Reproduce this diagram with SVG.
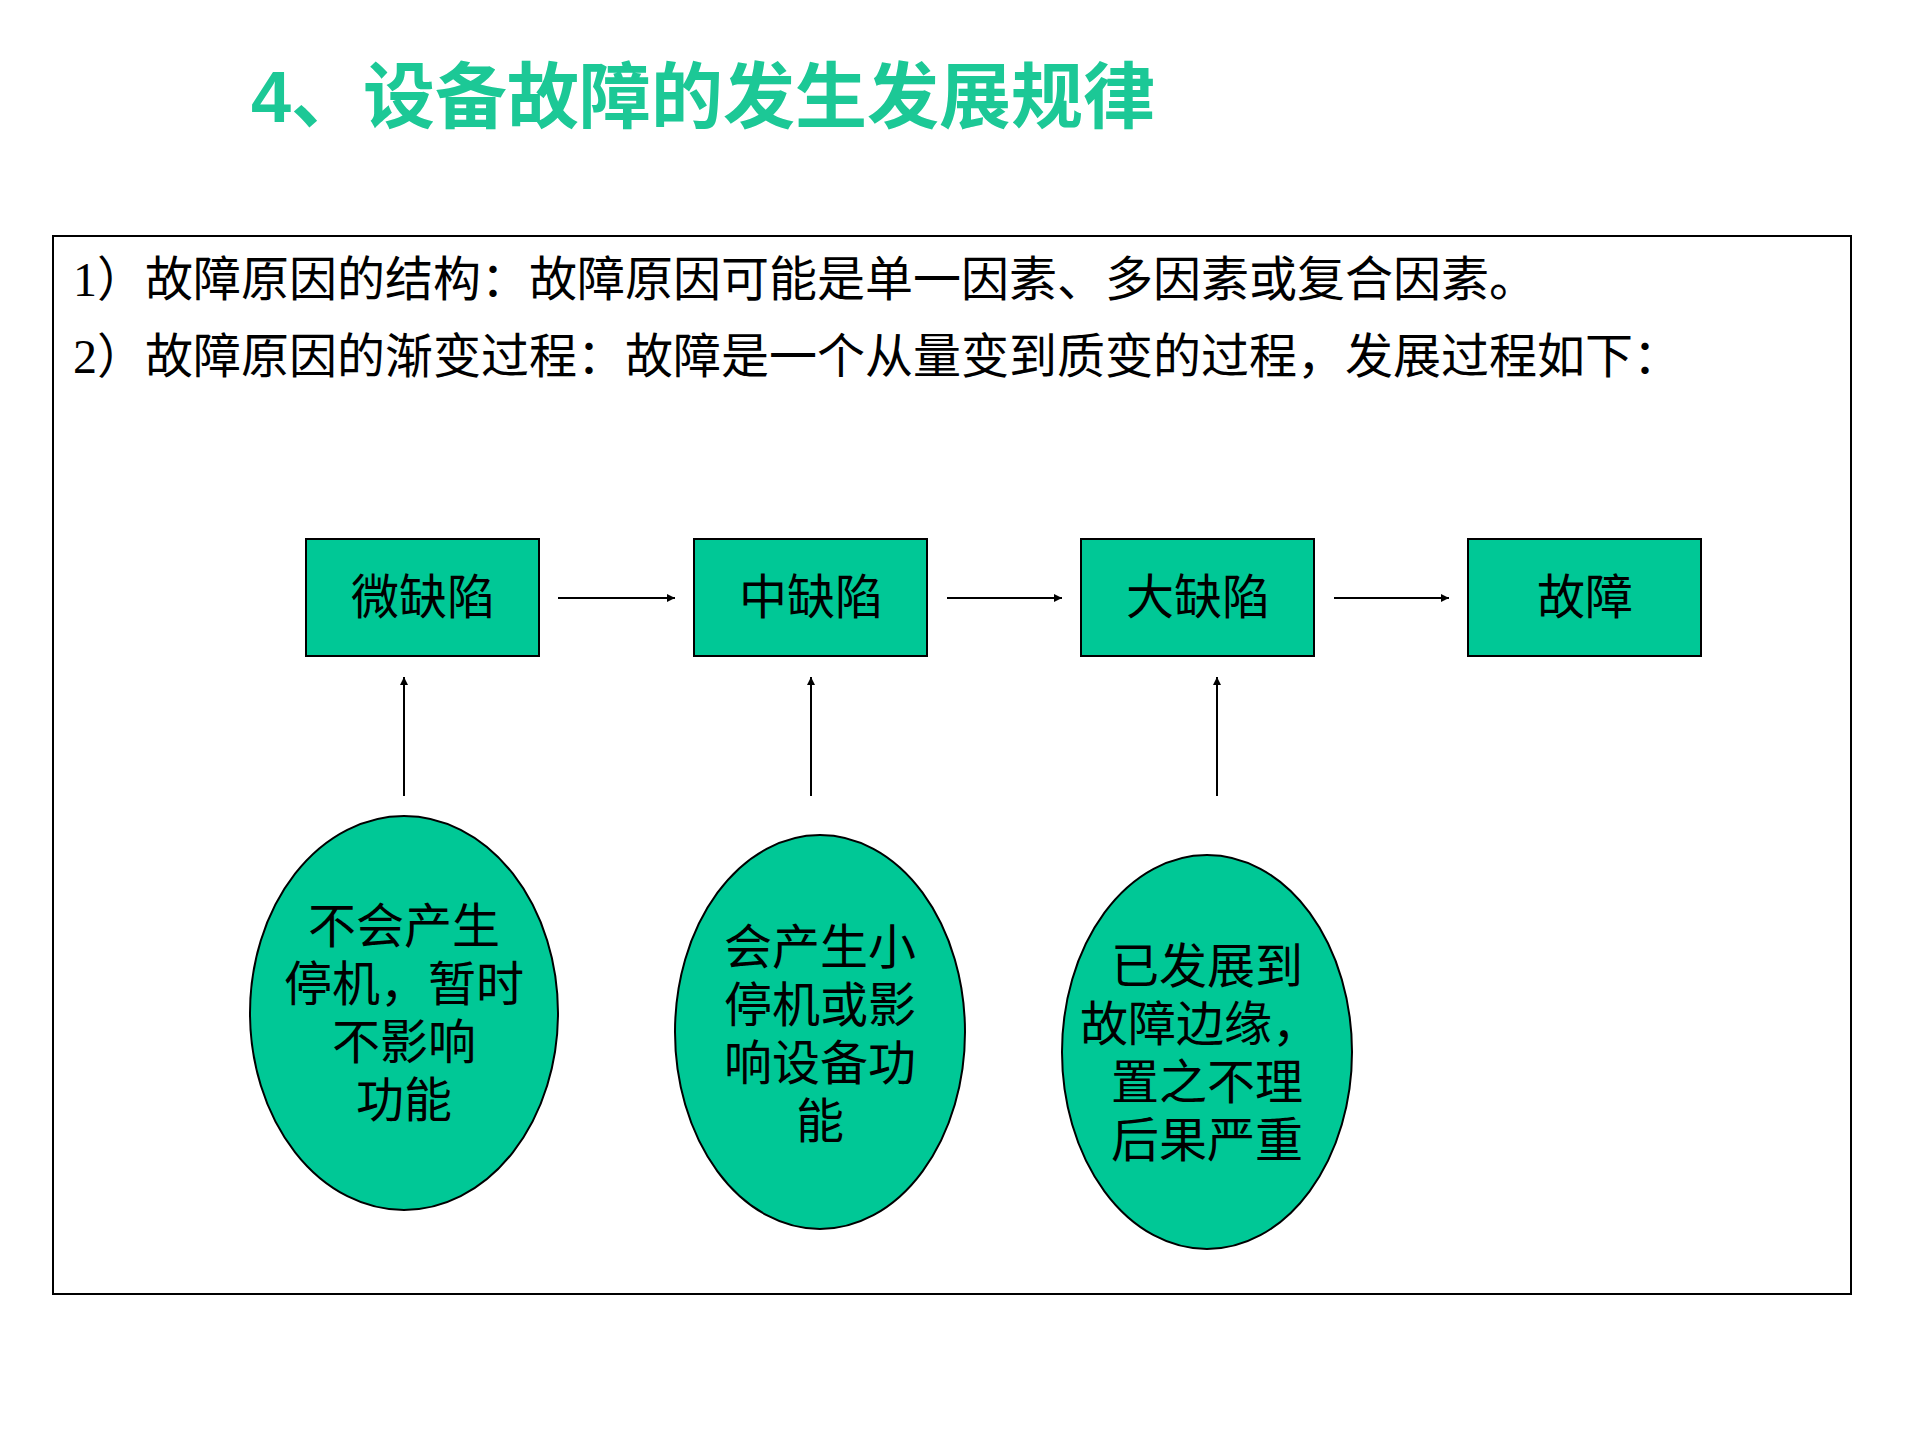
<svg xmlns="http://www.w3.org/2000/svg" width="1920" height="1440" viewBox="0 0 1920 1440">
<defs>
<style>
.t{font-family:"Liberation Serif","Noto Sans CJK SC",serif;font-size:48px;fill:#000}
.c{text-anchor:middle}
.n{fill:#00c896;stroke:#000;stroke-width:2}
.l{stroke:#000;stroke-width:2;fill:none;marker-end:url(#a)}
</style>
<marker id="a" viewBox="0 0 10 10" refX="10" refY="5" markerWidth="8" markerHeight="8" markerUnits="userSpaceOnUse" orient="auto"><path d="M0,0L10,5L0,10z" fill="#000"/></marker>
</defs>
<rect width="1920" height="1440" fill="#fff"/>
<text x="251" y="122" font-family="Liberation Sans,'Noto Sans CJK SC',sans-serif" font-size="72" font-weight="bold" fill="#1cc896">4、设备故障的发生发展规律</text>
<rect x="53" y="236" width="1798" height="1058" fill="none" stroke="#000" stroke-width="2"/>
<text class="t" x="73" y="296">1）故障原因的结构：故障原因可能是单一因素、多因素或复合因素。</text>
<text class="t" x="73" y="373">2）故障原因的渐变过程：故障是一个从量变到质变的过程，发展过程如下：</text>
<g id="n1"><rect class="n" x="306" y="539" width="233" height="117"/><text class="t c" x="423" y="614">微缺陷</text></g>
<g id="n2"><rect class="n" x="694" y="539" width="233" height="117"/><text class="t c" x="811" y="614">中缺陷</text></g>
<g id="n3"><rect class="n" x="1081" y="539" width="233" height="117"/><text class="t c" x="1198" y="614">大缺陷</text></g>
<g id="n4"><rect class="n" x="1468" y="539" width="233" height="117"/><text class="t c" x="1585" y="614">故障</text></g>
<g id="e1"><ellipse class="n" cx="404" cy="1013" rx="154" ry="197"/>
<text class="t c" x="404" y="943">不会产生</text><text class="t c" x="404" y="1001">停机，暂时</text><text class="t c" x="404" y="1059">不影响</text><text class="t c" x="404" y="1117">功能</text></g>
<g id="e2"><ellipse class="n" cx="820" cy="1032" rx="145" ry="197"/>
<text class="t c" x="820" y="964">会产生小</text><text class="t c" x="820" y="1022">停机或影</text><text class="t c" x="820" y="1080">响设备功</text><text class="t c" x="820" y="1138">能</text></g>
<g id="e3"><ellipse class="n" cx="1207" cy="1052" rx="145" ry="197"/>
<text class="t c" x="1207" y="983">已发展到</text><text class="t c" x="1200" y="1041">故障边缘，</text><text class="t c" x="1207" y="1099">置之不理</text><text class="t c" x="1207" y="1157">后果严重</text></g>
<g id="connectors">
<line class="l" x1="558" y1="598" x2="675" y2="598"/>
<line class="l" x1="947" y1="598" x2="1062" y2="598"/>
<line class="l" x1="1334" y1="598" x2="1449" y2="598"/>
<line class="l" x1="404" y1="796" x2="404" y2="677"/>
<line class="l" x1="811" y1="796" x2="811" y2="677"/>
<line class="l" x1="1217" y1="796" x2="1217" y2="677"/>
</g>
</svg>
